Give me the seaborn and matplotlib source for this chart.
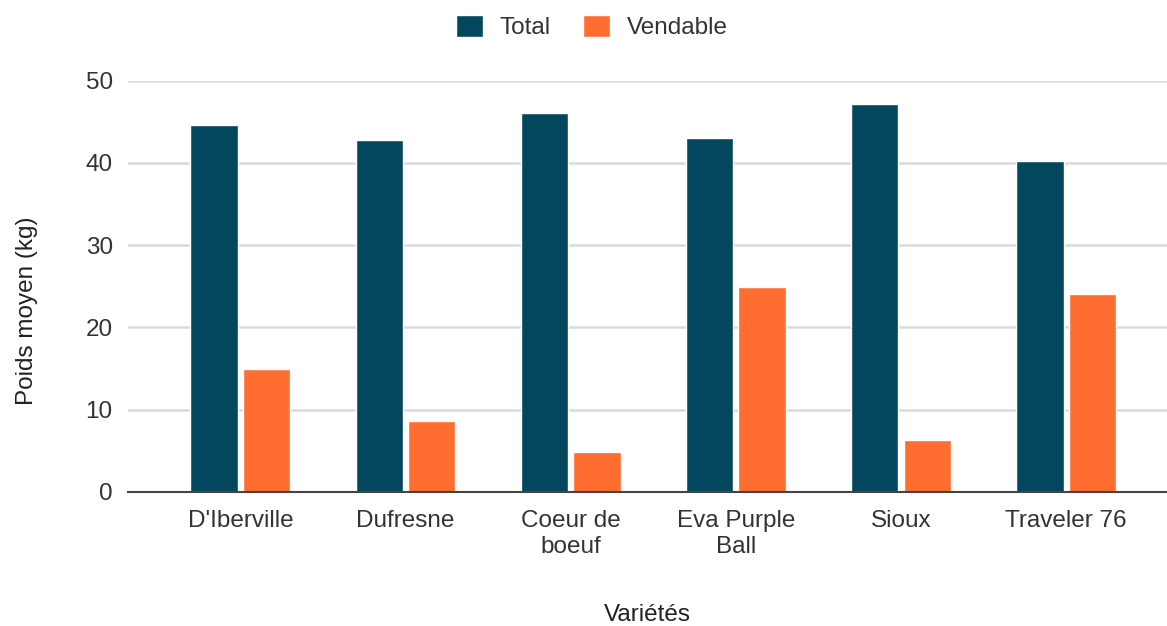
import matplotlib

matplotlib.use("Agg")
import matplotlib.pyplot as plt
import pandas as pd
import seaborn as sns

VARIETES = ["D'Iberville", "Dufresne", "Coeur de\nboeuf", "Eva Purple\nBall", "Sioux", "Traveler 76"]
TOTAL = [44.6, 42.8, 46.0, 43.0, 47.1, 40.2]
VENDABLE = [14.9, 8.6, 4.9, 24.9, 6.3, 24.1]
SERIES = ["Total", "Vendable"]
COLORS = ["#03475f", "#ff6d31"]
Y_TICKS = [0, 10, 20, 30, 40, 50]

FS = 17.5

df = pd.DataFrame({"variete": VARIETES, "Total": TOTAL, "Vendable": VENDABLE})
plot_df = df.melt(id_vars="variete", value_vars=SERIES, var_name="serie", value_name="poids")

sns.set_style("white")
plt.rcParams["font.family"] = ["Liberation Sans", "DejaVu Sans"]

fig = plt.figure(figsize=(11.67, 6.26), dpi=100)
ax = fig.add_axes([128 / 1167, 1 - 492 / 626, 1 - 128 / 1167, (492 - 80.5) / 626])

sns.barplot(
    data=plot_df,
    x="variete",
    y="poids",
    hue="serie",
    palette=COLORS,
    width=0.636,
    gap=0.1,
    saturation=1,
    ax=ax,
)

ax.set_ylim(0, 50)
ax.set_xlim(-0.68, 5.61)
ax.set_yticks(Y_TICKS)
ax.yaxis.grid(True, color="#dadada", linewidth=1.8)
ax.set_axisbelow(True)
for side in ["top", "right", "left"]:
    ax.spines[side].set_visible(False)
ax.spines["bottom"].set_color("#444444")
ax.spines["bottom"].set_linewidth(1.5)
ax.tick_params(axis="both", length=0, labelsize=FS, colors="#333333")
ax.tick_params(axis="x", pad=13)
ax.tick_params(axis="y", pad=11)
for lbl in ax.get_xticklabels():
    lbl.set_linespacing(1.25)

ax.set_xlabel("Variétés", fontsize=FS, color="#222222", labelpad=33)
ax.set_ylabel("Poids moyen (kg)", fontsize=FS, color="#222222", labelpad=34)
ax.yaxis.label.set_y(0.44)

handles, labels = ax.get_legend_handles_labels()
ax.legend(
    handles,
    labels,
    loc="upper center",
    bbox_to_anchor=(592 / 1167, 1 + 7 / 626),
    bbox_transform=fig.transFigure,
    ncol=2,
    frameon=False,
    fontsize=FS,
    handlelength=1.1,
    handleheight=1.0,
    handletextpad=0.7,
    columnspacing=1.35,
    labelcolor="#333333",
)

fig.savefig("out.png", dpi=100)
plt.close(fig)
